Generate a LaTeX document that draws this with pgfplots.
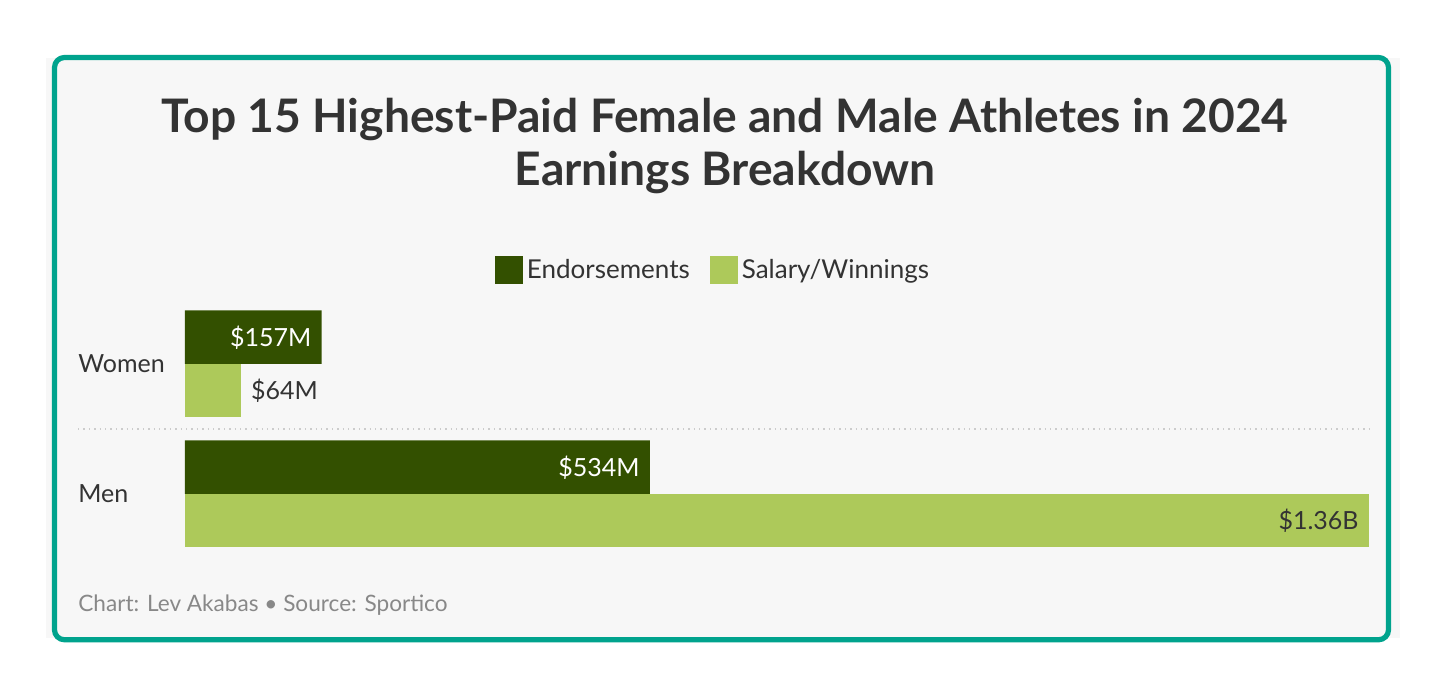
\documentclass[border=0pt]{standalone}
\usepackage{fontspec}
\setmainfont{Lato}
\usepackage{pgfplots}
\pgfplotsset{compat=1.18}
\definecolor{endo}{HTML}{335000}
\definecolor{sal}{HTML}{ADC95A}
\definecolor{frameteal}{HTML}{00A38D}
\definecolor{panel}{HTML}{F7F7F7}
\definecolor{txt}{HTML}{333333}
\definecolor{foot}{HTML}{888888}
\definecolor{sep}{HTML}{CCCCCC}
\begin{document}
\begin{tikzpicture}
\fill[white] (0,0) rectangle (724pt,340.5pt);
\begin{scope}[x=0.5pt,y=-0.5pt,yshift=340.5pt]
  \fill[panel] (46,58) rectangle (1400,638);
  \draw[frameteal, line width=2.6pt, rounded corners=5pt, fill=panel] (54.5,57.5) rectangle (1388.5,639.8);
  \node[font=\bfseries\fontsize{23.1}{26}\selectfont, text=txt, anchor=base, inner sep=0] at (725,133) {Top 15 Highest-Paid Female and Male Athletes in 2024};
  \node[font=\bfseries\fontsize{23.1}{26}\selectfont, text=txt, anchor=base, inner sep=0] at (725,186) {Earnings Breakdown};
  \node[anchor=base west, inner sep=0, text=foot, font=\fontsize{11.3}{13}\selectfont] at (78,612) {Chart: Lev Akabas • Source: Sportico};
  \draw[sep, dotted, line width=0.7pt] (78,429) -- (1369,429);
\end{scope}
\begin{axis}[
  at={(92.5pt,61pt)}, anchor=south west,
  scale only axis, width=592pt, height=130pt,
  xmin=0, xmax=1360, ymin=-0.5, ymax=1.5,
  xbar, bar width=26.75pt,
  hide x axis,
  axis y line*=left, y axis line style={draw=none},
  ytick={0,1}, yticklabels={Men,Women}, major tick length=0pt,
  yticklabel style={anchor=west, inner sep=0pt, xshift=-53.5pt, text=txt, font=\fontsize{12.5}{14}\selectfont},
  clip=false,
  legend columns=2,
  legend style={at={(rel axis cs:0.4468,1.1115)}, anchor=center, draw=none, fill=none,
    font=\fontsize{13}{15}\selectfont, text=txt,
    /tikz/every even column/.append style={column sep=8pt}},
  legend image code/.code={\fill[#1] (0pt,-7pt) rectangle (14pt,7pt);},
  nodes near coords, point meta=explicit symbolic,
]
\addplot[fill=endo, draw=none, bar shift=13.375pt,
  nodes near coords style={anchor=east, inner sep=0pt, xshift=-5pt, text=white, font=\fontsize{12.5}{14}\selectfont}]
  coordinates {(534,0) [\$534M] (157,1) [\$157M]};
\addplot[fill=sal, draw=none, bar shift=-13.375pt,
  nodes near coords style={anchor=east, inner sep=0pt, xshift=-5pt, text=txt, font=\fontsize{12.5}{14}\selectfont}]
  coordinates {(1360,0) [\$1.36B]};
\addplot[fill=sal, draw=none, bar shift=-13.375pt, forget plot,
  nodes near coords style={anchor=west, inner sep=0pt, xshift=5pt, text=txt, font=\fontsize{12.5}{14}\selectfont}]
  coordinates {(64,1) [\$64M]};
\legend{Endorsements, Salary/Winnings}
\end{axis}
\end{tikzpicture}
\end{document}
